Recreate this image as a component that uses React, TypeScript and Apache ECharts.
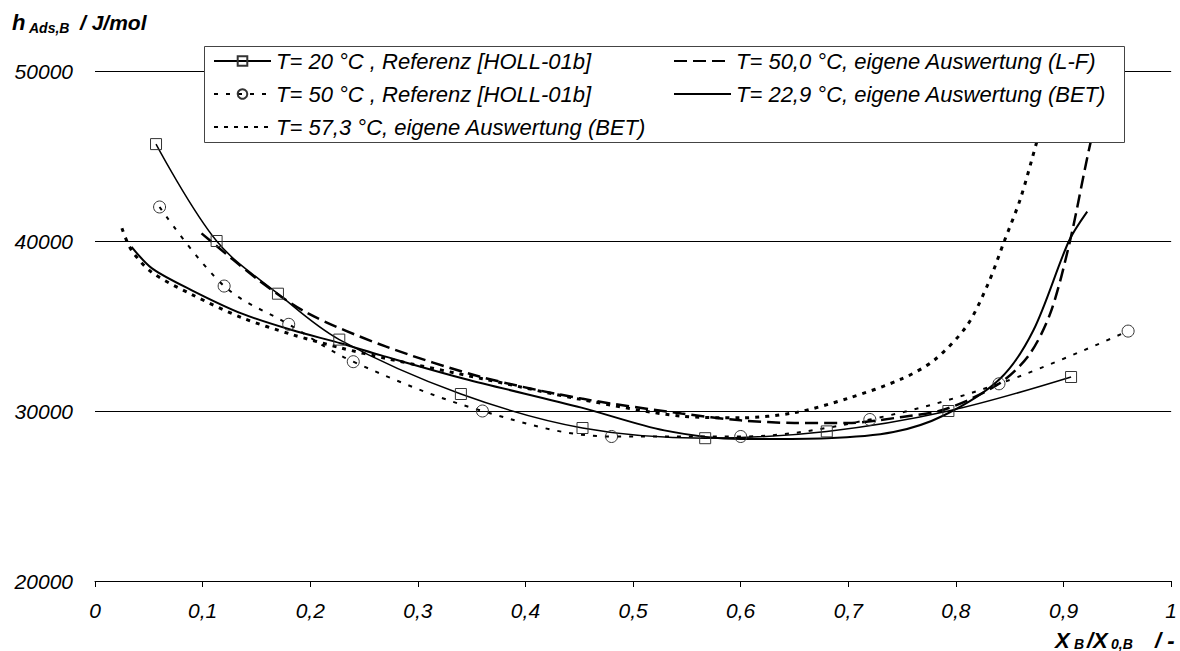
import React, { useEffect, useRef } from "react";
import * as echarts from "echarts";

// T= 20 °C, Referenz [HOLL-01b] (squares)
const ref20X = [0.0567, 0.113, 0.17, 0.227, 0.34, 0.453, 0.567, 0.68, 0.793, 0.907];
const ref20Y = [45700, 40000, 36900, 34200, 31000, 29000, 28400, 28800, 30000, 32000];

// T= 50 °C, Referenz [HOLL-01b] (circles)
const ref50X = [0.06, 0.12, 0.18, 0.24, 0.36, 0.48, 0.6, 0.72, 0.84, 0.96];
const ref50Y = [42000, 37350, 35100, 32900, 30000, 28500, 28500, 29500, 31600, 34700];

// T= 50,0 °C, eigene Auswertung (L-F)
const lf50X = [0.099, 0.152, 0.198, 0.27, 0.359, 0.452, 0.545, 0.6, 0.65, 0.7, 0.75, 0.79, 0.84, 0.868, 0.888, 0.906, 0.925, 0.935];
const lf50Y = [40450, 37700, 35740, 33800, 32000, 30730, 29850, 29450, 29300, 29300, 29650, 30100, 31600, 33300, 35800, 40000, 45760, 48000];

// T= 22,9 °C, eigene Auswertung (BET)
const bet229X = [0.034, 0.053, 0.09, 0.136, 0.183, 0.229, 0.266, 0.343, 0.452, 0.529, 0.6, 0.68, 0.742, 0.789, 0.841, 0.872, 0.905, 0.922];
const bet229Y = [39660, 38390, 37100, 35740, 34760, 33970, 33270, 31900, 30200, 28860, 28350, 28400, 28760, 29750, 31900, 34750, 40000, 41730];

// T= 57,3 °C, eigene Auswertung (BET)
const bet573X = [0.025, 0.034, 0.053, 0.09, 0.136, 0.183, 0.229, 0.27, 0.36, 0.45, 0.545, 0.6, 0.65, 0.7, 0.75, 0.78, 0.81, 0.83, 0.845, 0.86, 0.875, 0.885];
const bet573Y = [40750, 39450, 38150, 36850, 35500, 34500, 33700, 33100, 31900, 30700, 29700, 29600, 29900, 30750, 31900, 33000, 35000, 37500, 40000, 42500, 45800, 48000];

const seriesNames = [
  "T= 20 °C , Referenz [HOLL-01b]",
  "T= 50 °C , Referenz [HOLL-01b]",
  "T= 57,3 °C, eigene Auswertung (BET)",
  "T= 50,0 °C, eigene Auswertung (L-F)",
  "T= 22,9 °C, eigene Auswertung (BET)",
];

const yTitle = ["h", "Ads,B", "/ J/mol"];
const xTitle = ["X", "B", "/X", "0,B", "/ -"];

const FONT = "'Liberation Sans', Arial, Helvetica, sans-serif";

const zip = (xs: number[], ys: number[]) => xs.map((x, i) => [x, ys[i]]);

export default function App() {
  const ref = useRef<HTMLDivElement>(null);
  useEffect(() => {
    if (!ref.current) return;
    const chart = echarts.init(ref.current, undefined, { renderer: "svg" });
    const legendCommon = {
      orient: "horizontal",
      padding: 0,
      itemWidth: 57,
      itemHeight: 12,
      selectedMode: false,
      z: 6,
      textStyle: { fontFamily: FONT, fontStyle: "italic", fontSize: 22, color: "#000" },
    };
    const noSym = { itemStyle: { opacity: 0 } };
    const tStyle = { fontFamily: FONT, fontStyle: "italic", fontWeight: "bold", fill: "#000" };
    const option: any = {
      animation: false,
      backgroundColor: "#fff",
      grid: { left: 95, right: 8, top: 71, bottom: 70, containLabel: false },
      xAxis: {
        type: "value",
        min: 0,
        max: 1,
        interval: 0.1,
        axisLine: { show: true, lineStyle: { color: "#000", width: 1 } },
        axisTick: { show: true, length: 6, lineStyle: { color: "#000" } },
        splitLine: { show: false },
        axisLabel: {
          fontFamily: FONT,
          fontStyle: "italic",
          fontSize: 21,
          color: "#000",
          margin: 19,
          formatter: (v: number) => String(Math.round(v * 10) / 10).replace(".", ","),
        },
      },
      yAxis: {
        type: "value",
        min: 20000,
        max: 50000,
        interval: 10000,
        axisLine: { show: false },
        axisTick: { show: false },
        splitLine: { show: true, lineStyle: { color: "#000", width: 1 } },
        axisLabel: {
          fontFamily: FONT,
          fontStyle: "italic",
          fontSize: 21,
          color: "#000",
          margin: 22,
          formatter: (v: number) => String(v),
        },
      },
      legend: [
        { ...legendCommon, data: [seriesNames[0]], left: 213, top: 50 },
        { ...legendCommon, ...noSym, data: [seriesNames[3]], left: 673, top: 50 },
        { ...legendCommon, data: [seriesNames[1]], left: 213, top: 83 },
        { ...legendCommon, ...noSym, data: [seriesNames[4]], left: 673, top: 83 },
        { ...legendCommon, ...noSym, data: [seriesNames[2]], left: 213, top: 116 },
      ],
      graphic: [
        {
          type: "rect",
          z: 5,
          shape: { x: 204.5, y: 46.5, width: 920, height: 96 },
          style: { fill: "#fff", stroke: "#444", lineWidth: 1 },
        },
        { type: "text", x: 12, y: 11, style: { ...tStyle, text: yTitle[0], fontSize: 22 } },
        { type: "text", x: 29, y: 21, style: { ...tStyle, text: yTitle[1], fontSize: 14 } },
        { type: "text", x: 80, y: 12, style: { ...tStyle, text: yTitle[2], fontSize: 21 } },
        { type: "text", x: 1055, y: 629, style: { ...tStyle, text: xTitle[0], fontSize: 22 } },
        { type: "text", x: 1074, y: 637, style: { ...tStyle, text: xTitle[1], fontSize: 14 } },
        { type: "text", x: 1087, y: 629, style: { ...tStyle, text: xTitle[2], fontSize: 22 } },
        { type: "text", x: 1111, y: 637, style: { ...tStyle, text: xTitle[3], fontSize: 14 } },
        { type: "text", x: 1155, y: 629, style: { ...tStyle, text: xTitle[4], fontSize: 22 } },
      ],
      series: [
        {
          name: seriesNames[0],
          type: "line",
          data: zip(ref20X, ref20Y),
          smooth: 0.35,
          symbol: "rect",
          symbolSize: 11,
          showSymbol: true,
          itemStyle: { color: "rgba(255,255,255,0)", borderColor: "#333", borderWidth: 1 },
          lineStyle: { color: "#000", width: 1.5, type: "solid" },
          z: 3,
        },
        {
          name: seriesNames[1],
          type: "line",
          data: zip(ref50X, ref50Y),
          smooth: 0.35,
          symbol: "circle",
          symbolSize: 12,
          showSymbol: true,
          itemStyle: { color: "rgba(255,255,255,0)", borderColor: "#333", borderWidth: 1 },
          lineStyle: { color: "#000", width: 2, type: [4, 8] },
          z: 3,
        },
        {
          name: seriesNames[2],
          type: "line",
          data: zip(bet573X, bet573Y),
          smooth: 0.3,
          symbol: "none",
          lineStyle: { color: "#000", width: 3, type: [4, 6] },
          itemStyle: { color: "#000" },
          z: 2,
        },
        {
          name: seriesNames[3],
          type: "line",
          data: zip(lf50X, lf50Y),
          smooth: 0.3,
          symbol: "none",
          lineStyle: { color: "#000", width: 2.5, type: [13, 6] },
          itemStyle: { color: "#000" },
          z: 2,
        },
        {
          name: seriesNames[4],
          type: "line",
          data: zip(bet229X, bet229Y),
          smooth: 0.3,
          symbol: "none",
          lineStyle: { color: "#000", width: 2, type: "solid" },
          itemStyle: { color: "#000" },
          z: 2,
        },
      ],
    };
    chart.setOption(option);
    return () => chart.dispose();
  }, []);
  return (
    <div
      ref={ref}
      style={{ position: "fixed", left: 0, top: 0, width: 1180, height: 651, background: "#fff" }}
    />
  );
}
